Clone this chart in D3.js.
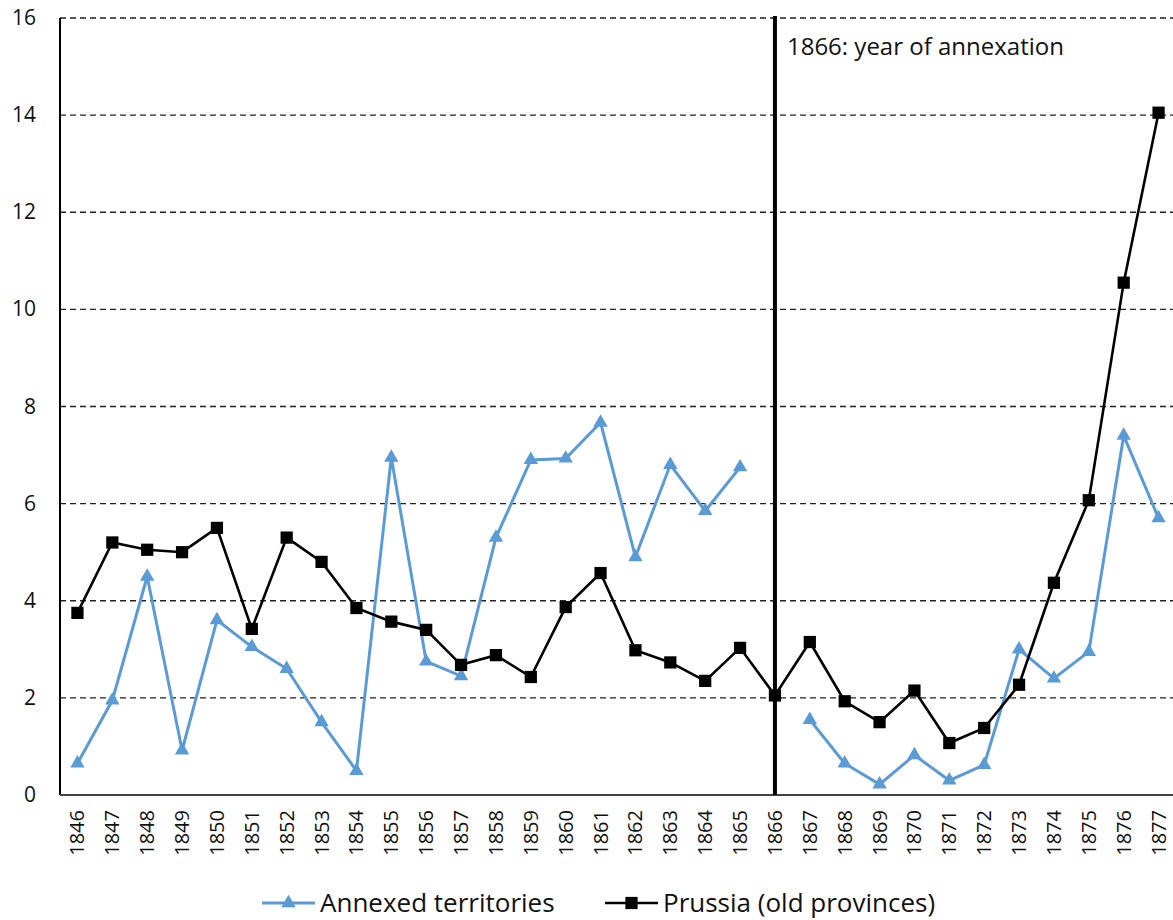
<!DOCTYPE html>
<html>
<head>
<meta charset="utf-8">
<script src="https://cdn.jsdelivr.net/npm/d3@7"></script>
<style>
  body { margin: 0; background: #fff; }
  svg { display: block; font-family: "Open Sans", "Liberation Sans", sans-serif; }
</style>
</head>
<body>
<div id="chart"></div>
<script>
let years = d3.range(1846, 1878);
let annexed = [0.65, 1.95, 4.5, 0.92, 3.6, 3.05, 2.6, 1.5, 0.5, 6.95,
               2.75, 2.45, 5.3, 6.9, 6.93, 7.67, 4.9, 6.8, 5.85, 6.75,
               null, 1.55, 0.65, 0.22, 0.82, 0.3, 0.62, 3.0, 2.4, 2.95,
               7.4, 5.7];
let prussia = [3.75, 5.2, 5.05, 5.0, 5.5, 3.42, 5.3, 4.8, 3.85, 3.57,
               3.4, 2.68, 2.88, 2.43, 3.87, 4.57, 2.98, 2.73, 2.35, 3.03,
               2.05, 3.15, 1.93, 1.5, 2.15, 1.07, 1.38, 2.27, 4.37, 6.07,
               10.55, 14.05];
let y_ticks = [0, 2, 4, 6, 8, 10, 12, 14, 16];
let annex_year = 1866;
let annex_label = "1866:  year of annexation";
let series_names = ["Annexed territories", "Prussia (old provinces)"];

let width = 1173;
let height = 920;
let margin = ({top: 18, right: -3, bottom: 125, left: 60});
let blue = "#5b9bd5";

let svg = d3.select("#chart").append("svg")
    .attr("width", width).attr("height", height);

let x = d3.scaleBand()
    .domain(years)
    .range([margin.left, width - margin.right]);

let y = d3.scaleLinear()
    .domain([0, 16])
    .range([height - margin.bottom, margin.top]);

let cx = yr => x(yr) + x.bandwidth() / 2;

// gridlines
svg.append("g")
    .selectAll("line")
    .data(y_ticks.filter(d => d > 0))
    .join("line")
    .attr("x1", margin.left).attr("x2", width)
    .attr("y1", d => y(d)).attr("y2", d => y(d))
    .attr("stroke", "#222")
    .attr("stroke-width", 1.3)
    .attr("stroke-dasharray", "6,4");

// y tick labels
svg.append("g")
    .selectAll("text")
    .data(y_ticks)
    .join("text")
    .attr("x", 36)
    .attr("y", d => y(d) + 7)
    .attr("text-anchor", "end")
    .attr("font-size", 21)
    .attr("fill", "#111")
    .text(d => d);

// axes
svg.append("line")
    .attr("x1", margin.left).attr("x2", margin.left)
    .attr("y1", y(16)).attr("y2", y(0))
    .attr("stroke", "#000").attr("stroke-width", 2);
svg.append("line")
    .attr("x1", margin.left).attr("x2", width)
    .attr("y1", y(0)).attr("y2", y(0))
    .attr("stroke", "#444").attr("stroke-width", 2);

// x tick labels, rotated
svg.append("g")
    .selectAll("text")
    .data(years)
    .join("text")
    .attr("transform", d => `translate(${cx(d) + 7},${y(0) + 15}) rotate(-90)`)
    .attr("text-anchor", "end")
    .attr("font-size", 20)
    .attr("fill", "#111")
    .text(d => d);

// annexation line
svg.append("line")
    .attr("x1", cx(annex_year)).attr("x2", cx(annex_year))
    .attr("y1", y(16) - 2).attr("y2", y(0))
    .attr("stroke", "#000").attr("stroke-width", 4);
svg.append("text")
    .attr("x", cx(annex_year) + 12)
    .attr("y", 55)
    .attr("font-size", 24)
    .attr("fill", "#111")
    .text(annex_label);

let line = d3.line()
    .defined(d => d.v != null)
    .x(d => cx(d.year))
    .y(d => y(d.v));

let annex_data = years.map((yr, i) => ({year: yr, v: annexed[i]}));
let prussia_data = years.map((yr, i) => ({year: yr, v: prussia[i]}));

let tri = d3.symbol().type(d3.symbolTriangle).size(90);
let sq = d3.symbol().type(d3.symbolSquare).size(150);

// annexed series
svg.append("path")
    .datum(annex_data)
    .attr("d", line)
    .attr("fill", "none")
    .attr("stroke", blue)
    .attr("stroke-width", 3);
svg.append("g")
    .selectAll("path")
    .data(annex_data.filter(d => d.v != null))
    .join("path")
    .attr("d", tri)
    .attr("transform", d => `translate(${cx(d.year)},${y(d.v)})`)
    .attr("fill", blue);

// prussia series
svg.append("path")
    .datum(prussia_data)
    .attr("d", line)
    .attr("fill", "none")
    .attr("stroke", "#000")
    .attr("stroke-width", 2.6);
svg.append("g")
    .selectAll("path")
    .data(prussia_data)
    .join("path")
    .attr("d", sq)
    .attr("transform", d => `translate(${cx(d.year)},${y(d.v)})`)
    .attr("fill", "#000");

// legend
let legend = svg.append("g");
let leg_items = [
    {name: series_names[0], x: 262, color: blue, sym: tri, sw: 3},
    {name: series_names[1], x: 605, color: "#000", sym: sq, sw: 2.6}
];
let ly = 903;
leg_items.forEach(it => {
    legend.append("line")
        .attr("x1", it.x).attr("x2", it.x + 53)
        .attr("y1", ly).attr("y2", ly)
        .attr("stroke", it.color).attr("stroke-width", it.sw);
    legend.append("path")
        .attr("d", it.sym)
        .attr("transform", `translate(${it.x + 26.5},${ly})`)
        .attr("fill", it.color);
    legend.append("text")
        .attr("x", it.x + 58)
        .attr("y", ly + 9)
        .attr("font-size", 26)
        .attr("fill", "#111")
        .text(it.name);
});
</script>
</body>
</html>
